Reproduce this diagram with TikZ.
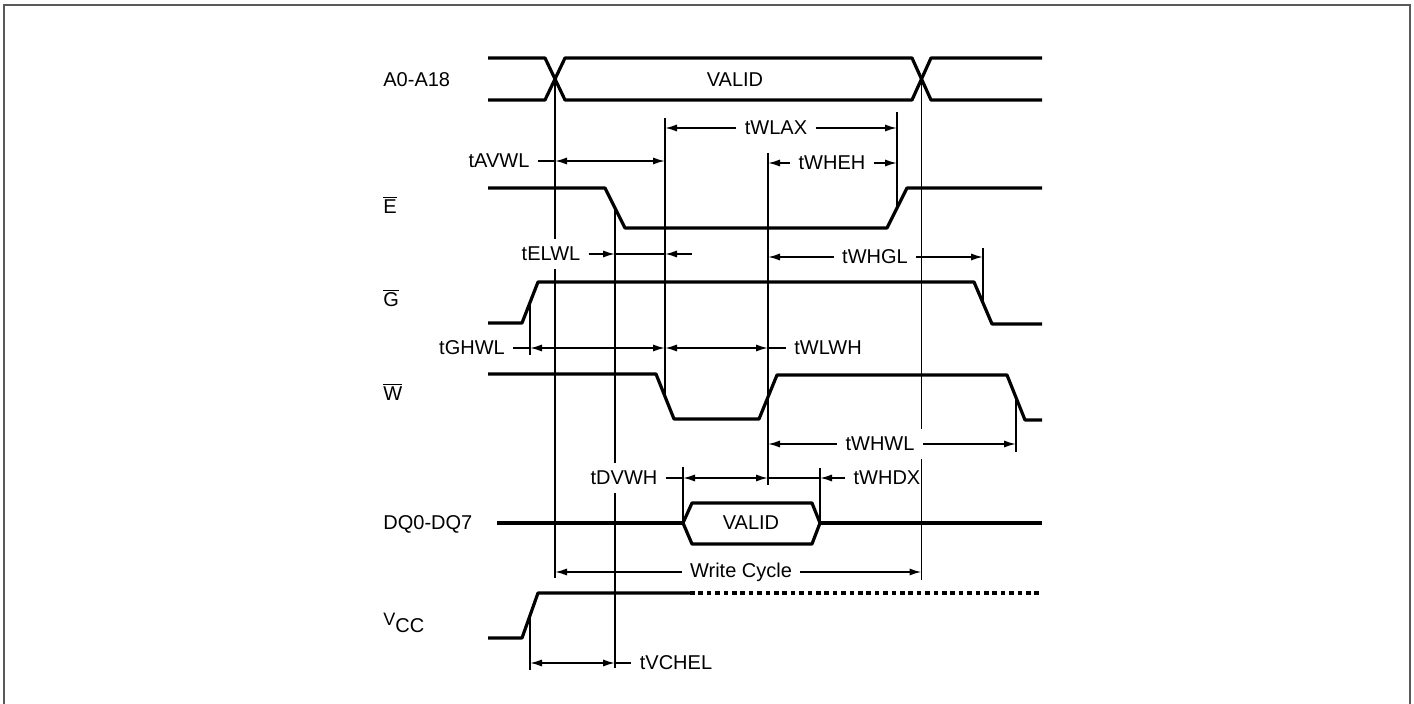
\documentclass[tikz,border=0pt]{standalone}
\usepackage{fontspec}
\setmainfont{Liberation Sans}
\usetikzlibrary{arrows.meta}

\tikzset{
  frame/.style={draw=black!65, line width=1pt},
  sig/.style={line width=1.6pt, line join=round},
  refline/.style={line width=0.9pt},
  dim/.style={line width=0.9pt},
  lbl/.style={fill=white, inner sep=4pt, font=\fontsize{10}{12}\selectfont},
  signame/.style={anchor=west, inner sep=0pt, font=\fontsize{10}{12}\selectfont}
}

\begin{document}
\begin{tikzpicture}[x=0.5pt, y=-0.5pt, >={Latex[length=6pt,width=3.6pt]}]
\useasboundingbox (0,0) rectangle (1414,704);
\draw[frame] (4,704) -- (4,5) -- (1410,5) -- (1410,704);

% signal names
\node[signame] (nA) at (383,80) {A0-A18};
\node[signame] (nE) at (383,205) {$\overline{\mbox{E}}$};
\node[signame] (nG) at (383,298) {$\overline{\mbox{G}}$};
\node[signame] (nW) at (383,392) {$\overline{\mbox{W}}$};
\node[signame] (nDQ) at (383,524) {DQ0-DQ7};
\node[signame] (nV) at (383,623) {{\small V}\raisebox{-0.6ex}{CC}};

% waveforms
\draw[sig] (488,58) -- (545,58) -- (565,100) -- (912,100) -- (931,58) -- (1042,58);
\draw[sig] (488,100) -- (545,100) -- (565,58) -- (912,58) -- (931,100) -- (1042,100);
\coordinate (Ax1) at (555,79);
\coordinate (Ax2) at (921.5,79);
\node[lbl, fill=none] (vA) at (735,80) {VALID};

\draw[sig] (488,188) -- (605,188) -- coordinate (Ef) (625,228) -- (887,228)
  -- coordinate (Er) (907,188) -- (1042,188);
\draw[sig] (488,323) -- (522,323) -- coordinate (Gr) (538,282) -- (974,282)
  -- coordinate (Gf) (992,324) -- (1042,324);
\draw[sig] (488,374) -- (656,374) -- coordinate (Wf) (674,419) -- (759,419)
  -- coordinate (Wr) (777,375) -- (1007,375) -- coordinate (Wf2) (1025,420) -- (1042,420);
\draw[sig] (497,523) -- (683,523) coordinate (Dl);
\draw[sig] (Dl) -- (692,503) -- (812,503) -- (820,523) coordinate (Dr)
  -- (812,544) -- (692,544) -- cycle;
\draw[sig] (Dr) -- (1042,523);
\node[lbl, fill=none] (vDQ) at (751,523) {VALID};
\draw[sig] (488,638) -- (522,638) -- coordinate (Vr) (538,593) -- (690,593) coordinate (Vs);
\draw[sig, dash pattern=on 2.3pt off 1.9pt] (Vs) -- (1040,593);

% timing reference lines
\draw[refline] (Ax1) -- (555,578);
\draw[refline] (Ef) -- (615,668);
\draw[refline] (665,118) -- (Wf);
\draw[refline] (768,153) -- (768,485);
\draw[refline] (897,112) -- (Er);
\draw[refline] (Ax2) -- (921.5,580);
\draw[refline] (983,248) -- (Gf);
\draw[refline] (Wf2) -- (1016,452);
\draw[refline] (Gr) -- (530,355);
\draw[refline] (683,467) -- (Dl);
\draw[refline] (820,468) -- (Dr);
\draw[refline] (Vr) -- (530,670);

% timing parameters
\node[lbl] (tWLAX) at (776,128) {tWLAX};
\draw[dim,->] (tWLAX.west) -- (665,128);
\draw[dim,->] (tWLAX.east) -- (897,128);

\node[lbl] (tAVWL) at (499,161) {tAVWL};
\draw[dim] (tAVWL.east) -- (555,161);
\draw[dim,<->] (555,161) -- (665,161);

\node[lbl] (tWHEH) at (832,163) {tWHEH};
\draw[dim,->] (tWHEH.west) -- (768,163);
\draw[dim,->] (tWHEH.east) -- (897,163);

\node[lbl] (tELWL) at (551,254) {tELWL};
\draw[dim,->] (tELWL.east) -- (615,254);
\draw[dim] (615,254) -- (665,254);
\draw[dim,<-] (665,254) -- (692,254);

\node[lbl] (tWHGL) at (875,257) {tWHGL};
\draw[dim,->] (tWHGL.west) -- (768,257);
\draw[dim,->] (tWHGL.east) -- (983,257);

\node[lbl] (tGHWL) at (472,348) {tGHWL};
\node[lbl] (tWLWH) at (828,348) {tWLWH};
\draw[dim] (tGHWL.east) -- (530,348);
\draw[dim,<->] (530,348) -- (665,348);
\draw[dim,<->] (665,348) -- (768,348);
\draw[dim] (768,348) -- (tWLWH.west);

\node[lbl] (tWHWL) at (880,444) {tWHWL};
\draw[dim,->] (tWHWL.west) -- (768,444);
\draw[dim,->] (tWHWL.east) -- (1016,444);

\node[lbl] (tDVWH) at (624,478) {tDVWH};
\node[lbl, fill=none] (tWHDX) at (887,478) {tWHDX};
\draw[dim] (tDVWH.east) -- (683,478);
\draw[dim,<->] (683,478) -- (768,478);
\draw[dim] (768,478) -- (820,478);
\draw[dim,->] (tWHDX.west) -- (820,478);

\node[lbl] (wcyc) at (741,572) {Write Cycle};
\draw[dim,->] (wcyc.west) -- (555,572);
\draw[dim,->] (wcyc.east) -- (921.5,572);

\node[lbl] (tVCHEL) at (676,663) {tVCHEL};
\draw[dim,<->] (530,663) -- (615,663);
\draw[dim] (615,663) -- (tVCHEL.west);
\end{tikzpicture}
\end{document}
